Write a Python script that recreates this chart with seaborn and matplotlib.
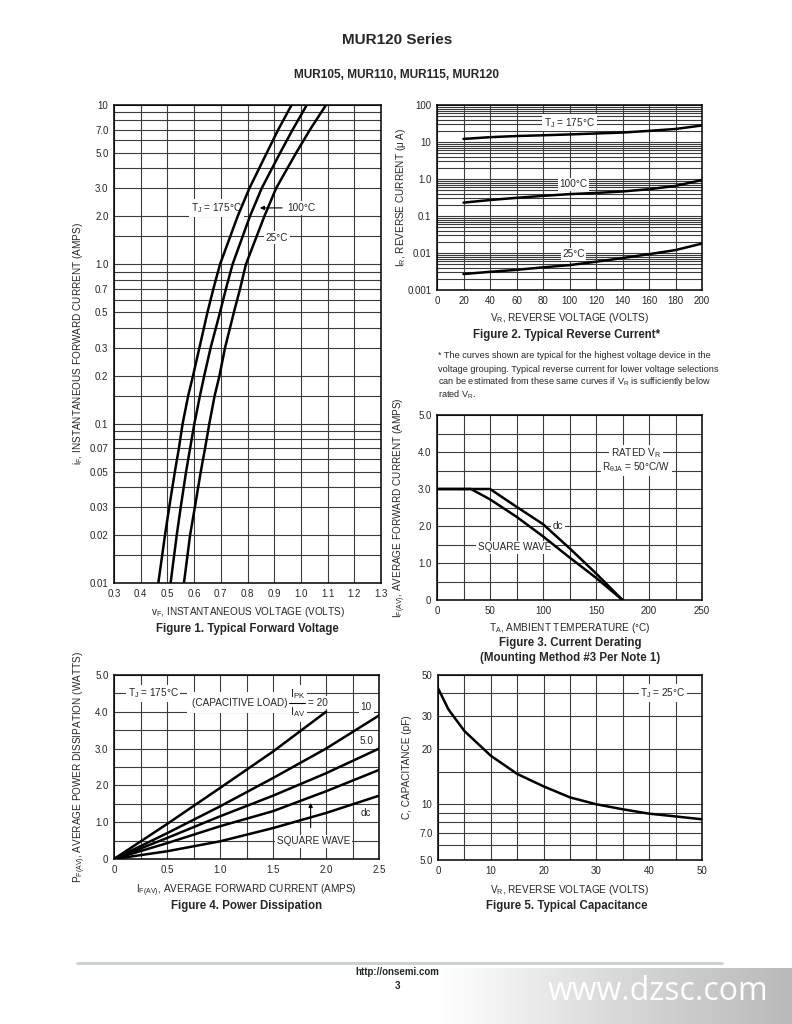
import numpy as np
import pandas as pd
import matplotlib
matplotlib.use("Agg")
import matplotlib.pyplot as plt
import matplotlib.ticker as mticker
from matplotlib.colors import LinearSegmentedColormap
from matplotlib.lines import Line2D
import seaborn as sns

sns.set_style("white")
plt.rcParams["font.family"] = ["Liberation Sans Narrow", "Liberation Sans", "DejaVu Sans"]
plt.rcParams["mathtext.default"] = "regular"

# ---------------------------------------------------------------------------
# DATA
# ---------------------------------------------------------------------------
# Figure 1 - forward voltage (V) at each forward current (A)
fwd_current = [0.01, 0.02, 0.03, 0.05, 0.07, 0.1, 0.15, 0.2, 0.3, 0.5, 0.7, 1.0, 2.0, 3.0, 5.0, 7.0, 10.0]
vf_175 = [0.466, 0.491, 0.507, 0.528, 0.543, 0.557, 0.578, 0.596, 0.620, 0.650, 0.672, 0.697, 0.763, 0.807, 0.872, 0.915, 0.965]
vf_100 = [0.512, 0.535, 0.550, 0.570, 0.585, 0.601, 0.622, 0.638, 0.662, 0.697, 0.719, 0.744, 0.809, 0.853, 0.922, 0.969, 1.022]
vf_25 = [0.562, 0.585, 0.603, 0.625, 0.641, 0.657, 0.677, 0.695, 0.716, 0.749, 0.772, 0.794, 0.863, 0.907, 0.982, 1.034, 1.094]

# Figure 2 - reverse current (uA) vs reverse voltage (V)
vr_rev = [20, 40, 60, 80, 100, 120, 140, 160, 180, 200]
ir_175 = [12.1, 13.5, 14.5, 15.2, 16.0, 17.0, 18.0, 20.0, 22.5, 28.0]
ir_100 = [0.23, 0.27, 0.31, 0.35, 0.39, 0.42, 0.46, 0.53, 0.65, 0.94]
ir_25 = [0.0027, 0.0031, 0.0035, 0.0041, 0.0047, 0.0058, 0.0073, 0.0093, 0.0120, 0.0180]

# Figure 3 - current derating
ta_dc = [0, 50, 75, 100, 125, 150, 175]
if_dc = [3.0, 3.0, 2.52, 2.05, 1.40, 0.72, 0.0]
ta_sq = [0, 32, 50, 75, 100, 125, 150, 175]
if_sq = [3.0, 3.0, 2.72, 2.25, 1.72, 1.15, 0.60, 0.0]

# Figure 4 - power dissipation
if_av = [0, 0.5, 1.0, 1.5, 2.0, 2.5]
pd_20 = [0, 0.95, 1.93, 2.92, 4.0]
pd_10 = [0, 0.70, 1.43, 2.20, 3.00, 3.90]
pd_5 = [0, 0.57, 1.16, 1.72, 2.33, 3.00]
pd_sq = [0, 0.43, 0.89, 1.30, 1.84, 2.42]
pd_dc = [0, 0.21, 0.48, 0.84, 1.25, 1.72]

# Figure 5 - capacitance (pF) vs reverse voltage (V)
vr_cap = [0, 2, 5, 10, 15, 20, 25, 30, 35, 40, 45, 50]
cap_pf = [42.4, 32.5, 24.9, 18.3, 14.6, 12.5, 10.9, 10.0, 9.4, 8.9, 8.6, 8.3]

# tick labels
f1_xticks = [0.3, 0.4, 0.5, 0.6, 0.7, 0.8, 0.9, 1.0, 1.1, 1.2, 1.3]
f1_xlabels = ["0.3", "0.4", "0.5", "0.6", "0.7", "0.8", "0.9", "1.0", "1.1", "1.2", "1.3"]
f1_yticks = [0.01, 0.02, 0.03, 0.05, 0.07, 0.1, 0.2, 0.3, 0.5, 0.7, 1.0, 2.0, 3.0, 5.0, 7.0, 10]
f1_ylabels = ["0.01", "0.02", "0.03", "0.05", "0.07", "0.1", "0.2", "0.3", "0.5", "0.7",
              "1.0", "2.0", "3.0", "5.0", "7.0", "10"]
f2_yticks = [0.001, 0.01, 0.1, 1.0, 10, 100]
f2_ylabels = ["0.001", "0.01", "0.1", "1.0", "10", "100"]
f5_yticks = [5, 7, 10, 20, 30, 50]
f5_ylabels = ["5.0", "7.0", "10", "20", "30", "50"]

# ---------------------------------------------------------------------------
# HELPERS
# ---------------------------------------------------------------------------
W, H = 792, 1024
fig = plt.figure(figsize=(W / 100, H / 100), dpi=100)


def px_axes(x0, y0, x1, y1):
    return fig.add_axes([x0 / W, 1 - y1 / H, (x1 - x0) / W, (y1 - y0) / H])


def decades(lo, hi, mults):
    out = []
    for e in range(lo, hi):
        out += [m * 10 ** e for m in mults]
    return out + [10 ** hi]


def style(ax, xticks, xlabels, yticks, ylabels, xgrid, ygrid):
    ax.xaxis.set_major_locator(mticker.FixedLocator(xticks))
    ax.xaxis.set_major_formatter(mticker.FixedFormatter(xlabels))
    ax.yaxis.set_major_locator(mticker.FixedLocator(yticks))
    ax.yaxis.set_major_formatter(mticker.FixedFormatter(ylabels))
    ax.xaxis.set_minor_locator(mticker.FixedLocator(xgrid))
    ax.yaxis.set_minor_locator(mticker.FixedLocator(ygrid))
    ax.xaxis.set_minor_formatter(mticker.NullFormatter())
    ax.yaxis.set_minor_formatter(mticker.NullFormatter())
    ax.xaxis.remove_overlapping_locs = False
    ax.yaxis.remove_overlapping_locs = False
    ax.grid(False, which="major")
    ax.grid(True, which="minor", color="#3c3c3c", lw=0.8)
    ax.tick_params(which="both", length=0, labelsize=7, pad=4)
    for s in ax.spines.values():
        s.set_color("black")
        s.set_linewidth(1.1)
        s.set_zorder(5)


def curve(ax, x, y):
    sns.lineplot(x=x, y=y, ax=ax, color="black", lw=1.8, sort=False, estimator=None,
                 legend=False, zorder=4)


box = dict(fc="white", ec="none", pad=1.2)
lab_kw = dict(fontsize=7.2, zorder=3)
axl_kw = dict(fontsize=7.2)
cap_kw = dict(fontsize=8.3, fontweight="bold", family=["Liberation Sans", "DejaVu Sans"], ha="center", va="center")

# ---------------------------------------------------------------------------
# FIGURE 1
# ---------------------------------------------------------------------------
ax1 = px_axes(114, 105, 381, 583)
ax1.set_yscale("log")
for vf in (vf_175, vf_100, vf_25):
    curve(ax1, vf, fwd_current)
ax1.set_xlim(0.3, 1.3)
ax1.set_ylim(0.01, 10)
style(ax1, f1_xticks, f1_xlabels, f1_yticks, f1_ylabels,
      [x / 10 for x in range(3, 14)], decades(-2, 1, [1, 1.5, 2, 3, 4, 5, 6, 7, 8, 9]))
ax1.text(0.684, 2.26, r"T$_J$ = 175°C", ha="center", va="center", bbox=box, **lab_kw)
ax1.text(1.003, 2.26, "100°C", ha="center", va="center", bbox=box, **lab_kw)
ax1.annotate("", xy=(0.836, 2.26), xytext=(0.94, 2.26), zorder=5,
             arrowprops=dict(arrowstyle="-|>", color="black", lw=0.8, mutation_scale=6))
ax1.text(0.909, 1.47, "25°C", ha="center", va="center", bbox=box, **lab_kw)
ax1.set_xlabel(r"v$_F$, INSTANTANEOUS VOLTAGE (VOLTS)", **axl_kw)
ax1.set_ylabel(r"i$_F$, INSTANTANEOUS FORWARD CURRENT (AMPS)", **axl_kw)
ax1.xaxis.set_label_coords(0.5, -0.046)
ax1.yaxis.set_label_coords(-0.109, 0.5)
fig.text(247 / W, 1 - 629 / H, "Figure 1. Typical Forward Voltage", **cap_kw)

# ---------------------------------------------------------------------------
# FIGURE 2
# ---------------------------------------------------------------------------
ax2 = px_axes(437, 105, 702, 290)
ax2.set_yscale("log")
for ir in (ir_175, ir_100, ir_25):
    curve(ax2, vr_rev, ir)
ax2.set_xlim(0, 200)
ax2.set_ylim(0.001, 100)
style(ax2, list(range(0, 201, 20)), [str(v) for v in range(0, 201, 20)], f2_yticks, f2_ylabels,
      list(range(0, 201, 20)), decades(-3, 2, [1, 2, 3, 4, 5, 6, 7, 8, 9]))
ax2.text(100, 33, r"T$_J$ = 175°C", ha="center", va="center", bbox=box, **lab_kw)
ax2.text(103, 0.72, "100°C", ha="center", va="center", bbox=box, **lab_kw)
ax2.text(103, 0.0092, "25°C", ha="center", va="center", bbox=box, **lab_kw)
ax2.set_xlabel(r"V$_R$, REVERSE VOLTAGE (VOLTS)", **axl_kw)
ax2.set_ylabel(r"I$_R$, REVERSE CURRENT (μ A)", **axl_kw)
ax2.xaxis.set_label_coords(0.5, -0.114)
ax2.yaxis.set_label_coords(-0.109, 0.5)
fig.text(567 / W, 1 - 335 / H, "Figure 2. Typical Reverse Current*", **cap_kw)

note = ["* The curves shown are typical for the highest voltage device in the",
        "voltage grouping. Typical reverse current for lower voltage selections",
        r"can be estimated from these same curves if V$_R$ is sufficiently below",
        r"rated V$_R$."]
for i, line in enumerate(note):
    fig.text(438 / W, 1 - (356 + 13 * i) / H, line, fontsize=6.6, ha="left", va="center")

# ---------------------------------------------------------------------------
# FIGURE 3
# ---------------------------------------------------------------------------
ax3 = px_axes(437, 415, 702, 600)
curve(ax3, ta_dc, if_dc)
curve(ax3, ta_sq, if_sq)
ax3.set_xlim(0, 250)
ax3.set_ylim(0, 5)
style(ax3, [0, 50, 100, 150, 200, 250], ["0", "50", "100", "150", "200", "250"],
      [0, 1, 2, 3, 4, 5], ["0", "1.0", "2.0", "3.0", "4.0", "5.0"],
      list(range(0, 251, 25)), [v / 2 for v in range(0, 11)])
ax3.text(188, 3.96, r"RATED V$_R$", ha="center", va="center", bbox=box, **lab_kw)
ax3.text(188, 3.58, r"R$_{\theta JA}$ = 50°C/W", ha="center", va="center", bbox=box, **lab_kw)
ax3.text(114, 2.0, "dc", ha="center", va="center", bbox=box, **lab_kw)
ax3.text(73, 1.42, "SQUARE WAVE", ha="center", va="center", bbox=box, **lab_kw)
ax3.set_xlabel(r"T$_A$, AMBIENT TEMPERATURE (°C)", **axl_kw)
ax3.set_ylabel(r"I$_{F(AV)}$, AVERAGE FORWARD CURRENT (AMPS)", **axl_kw)
ax3.xaxis.set_label_coords(0.5, -0.114)
ax3.yaxis.set_label_coords(-0.109, 0.5)
fig.text(570 / W, 1 - 643 / H, "Figure 3. Current Derating", **cap_kw)
fig.text(570 / W, 1 - 658 / H, "(Mounting Method #3 Per Note 1)", **cap_kw)

# ---------------------------------------------------------------------------
# FIGURE 4
# ---------------------------------------------------------------------------
ax4 = px_axes(114, 675, 379, 859)
curve(ax4, if_av[:5], pd_20)
for p in (pd_10, pd_5, pd_sq, pd_dc):
    curve(ax4, if_av, p)
ax4.set_xlim(0, 2.5)
ax4.set_ylim(0, 5)
style(ax4, [0, 0.5, 1.0, 1.5, 2.0, 2.5], ["0", "0.5", "1.0", "1.5", "2.0", "2.5"],
      [0, 1, 2, 3, 4, 5], ["0", "1.0", "2.0", "3.0", "4.0", "5.0"],
      [v / 4 for v in range(0, 11)], [v / 2 for v in range(0, 11)])
ax4.text(0.37, 4.5, r"T$_J$ = 175°C", ha="center", va="center", bbox=box, **lab_kw)
# (CAPACITIVE LOAD) I_PK / I_AV = 20, built from pieces so the fraction stays full size
ax4.text(1.64, 4.25, "(CAPACITIVE LOAD)", ha="right", va="center",
         bbox=dict(fc="white", ec="none", pad=4), **lab_kw)
ax4.text(1.73, 4.47, r"I$_{PK}$", ha="center", va="center", fontsize=8, zorder=3,
         bbox=dict(fc="white", ec="none", pad=1.5))
ax4.text(1.73, 3.98, r"I$_{AV}$", ha="center", va="center", fontsize=8, zorder=3,
         bbox=dict(fc="white", ec="none", pad=1.5))
ax4.plot([1.655, 1.805], [4.25, 4.25], color="black", lw=0.8, zorder=5)
ax4.text(1.83, 4.25, "= 20", ha="left", va="center", bbox=box, **lab_kw)
ax4.text(2.38, 4.12, "10", ha="center", va="center", bbox=box, **lab_kw)
ax4.text(2.38, 3.2, "5.0", ha="center", va="center", bbox=box, **lab_kw)
ax4.text(2.38, 1.25, "dc", ha="center", va="center", bbox=box, **lab_kw)
ax4.text(1.88, 0.48, "SQUARE WAVE", ha="center", va="center", bbox=box, **lab_kw)
ax4.annotate("", xy=(1.855, 1.6), xytext=(1.855, 0.78), zorder=5,
             arrowprops=dict(arrowstyle="-|>", color="black", lw=0.8, mutation_scale=6))
ax4.set_xlabel(r"I$_{F(AV)}$, AVERAGE FORWARD CURRENT (AMPS)", **axl_kw)
ax4.set_ylabel(r"P$_{F(AV)}$, AVERAGE POWER DISSIPATION (WATTS)", **axl_kw)
ax4.xaxis.set_label_coords(0.5, -0.13)
ax4.yaxis.set_label_coords(-0.098, 0.5)
fig.text(247 / W, 1 - 906 / H, "Figure 4. Power Dissipation", **cap_kw)

# ---------------------------------------------------------------------------
# FIGURE 5
# ---------------------------------------------------------------------------
ax5 = px_axes(438, 675, 702, 860)
ax5.set_yscale("log")
curve(ax5, vr_cap, cap_pf)
ax5.set_xlim(0, 50)
ax5.set_ylim(5, 50)
style(ax5, [0, 10, 20, 30, 40, 50], ["0", "10", "20", "30", "40", "50"], f5_yticks, f5_ylabels,
      list(range(0, 51, 5)), [5, 6, 7, 8, 9, 10, 15, 20, 30, 40, 50])
ax5.text(42.6, 40, r"T$_J$ = 25°C", ha="center", va="center", bbox=box, **lab_kw)
ax5.set_xlabel(r"V$_R$, REVERSE VOLTAGE (VOLTS)", **axl_kw)
ax5.set_ylabel("C, CAPACITANCE (pF)", **axl_kw)
ax5.xaxis.set_label_coords(0.5, -0.124)
ax5.yaxis.set_label_coords(-0.098, 0.5)
fig.text(567 / W, 1 - 906 / H, "Figure 5. Typical Capacitance", **cap_kw)

# ---------------------------------------------------------------------------
# PAGE HEADER / FOOTER
# ---------------------------------------------------------------------------
hdr = dict(fontweight="bold", family=["Liberation Sans", "DejaVu Sans"], ha="center", va="center")
fig.text(397 / W, 1 - 40 / H, "MUR120 Series", fontsize=11, **hdr)
fig.text(397 / W, 1 - 75 / H, "MUR105, MUR110, MUR115, MUR120", fontsize=8.5, **hdr)

fig.add_artist(Line2D([77 / W, 722 / W], [1 - 963 / H] * 2, color="#c9d0cf", lw=2))
fig.text(397 / W, 1 - 972 / H, "http://onsemi.com", fontsize=7, **hdr)
fig.text(397 / W, 1 - 986 / H, "3", fontsize=7, **hdr)

wm = fig.add_axes([440 / W, 0, 352 / W, 56 / H])
wm.imshow(np.linspace(0, 1, 256).reshape(1, -1), aspect="auto",
          cmap=LinearSegmentedColormap.from_list("wm", ["#ffffff", "#d9d9d9", "#b9b9b9"]))
wm.axis("off")
fig.text(658 / W, 1 - 992 / H, "www.dzsc.com", fontsize=23, color="white",
         family=["Open Sans", "DejaVu Sans"], ha="center", va="center")

fig.savefig("out.png", dpi=100)
